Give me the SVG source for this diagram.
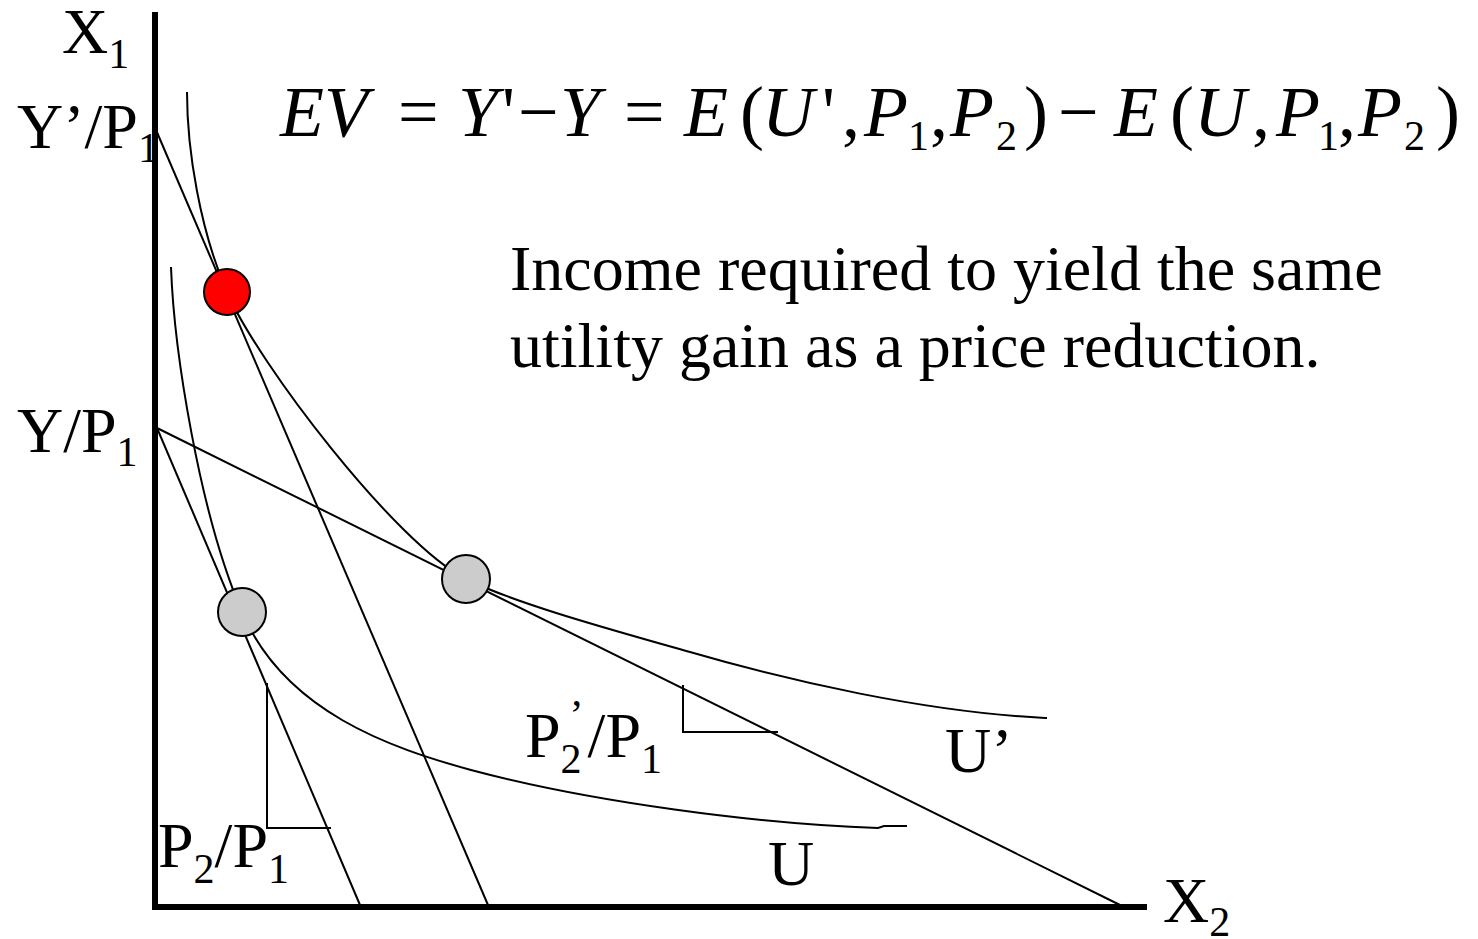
<svg xmlns="http://www.w3.org/2000/svg" width="1478" height="939" viewBox="0 0 1478 939">
<style>
text{font-family:"Liberation Serif","Times New Roman",serif;fill:#000}
.lbl{font-size:64px}
.sub{font-size:42px}
.eq{font-size:72px;font-style:italic}
.up{font-style:normal}
.ln{stroke:#000;stroke-width:2;fill:none}
.axis{stroke:#000;stroke-width:6;fill:none}
.dot{stroke:#000;stroke-width:2}
</style>
<rect width="1478" height="939" fill="#fff"/>
<g id="axes">
<line class="axis" x1="155" y1="12" x2="155" y2="910"/>
<line class="axis" x1="152" y1="907" x2="1147" y2="907"/>
</g>
<g id="connectors">
<line class="ln" x1="156" y1="130" x2="488" y2="905"/>
<line class="ln" x1="157" y1="428" x2="1122" y2="906"/>
<line class="ln" x1="157" y1="428" x2="360" y2="905"/>
<path id="curve-Uprime" class="ln" d="M187,92 C187,150 200,230 227,292 C257,362 396,544 466,579 C516,604 620,632 690,652 C790,681 925,712 1045,718 L1047,718"/>
<path id="curve-U" class="ln" d="M171,267 C174,350 199,512 242,612 C284.6,712 391,748 471,770 C591,802 758,824 878,828 L884,826 L907,826"/>
<polyline class="ln" points="267,683 267,828 331,828"/>
<polyline class="ln" points="683,685 683,732 778,732"/>
</g>
<g id="point-red"><circle class="dot" cx="227" cy="292" r="23" fill="#ff0000"/></g>
<g id="point-new"><circle class="dot" cx="466" cy="579" r="24" fill="#cccccc"/></g>
<g id="point-orig"><circle class="dot" cx="242" cy="612" r="24" fill="#cccccc"/></g>
<g id="labels">
<text class="lbl" x="62" y="53">X<tspan class="sub" dy="15">1</tspan></text>
<text class="lbl" x="17" y="148">Y’/P<tspan class="sub" dy="14">1</tspan></text>
<text class="lbl" x="17" y="452">Y/P<tspan class="sub" dy="14">1</tspan></text>
<text class="lbl" x="158" y="867">P<tspan class="sub" dy="16">2</tspan><tspan dy="-16">/P</tspan><tspan class="sub" dy="16">1</tspan></text>
<text class="lbl" x="525" y="757">P<tspan class="sub" dy="16">2</tspan><tspan class="sub" dx="-12" dy="-44">’</tspan><tspan dx="4" dy="28">/P</tspan><tspan class="sub" dy="16">1</tspan></text>
<text class="lbl" x="945" y="772">U’</text>
<text class="lbl" x="768" y="885">U</text>
<text class="lbl" x="1163" y="922">X<tspan class="sub" dy="14">2</tspan></text>
<text class="lbl" x="510" y="290">Income required to yield the same</text>
<text class="lbl" x="510" y="367">utility gain as a price reduction.</text>
</g>
<g id="equation">
<text class="eq" y="136"><tspan x="280">EV</tspan><tspan class="up" x="398">=</tspan><tspan x="458">Y</tspan><tspan class="up" x="502">'</tspan><tspan class="up" x="518">−</tspan><tspan x="560">Y</tspan><tspan class="up" x="624">=</tspan><tspan x="684">E</tspan><tspan class="up" x="740">(</tspan><tspan x="762">U</tspan><tspan class="up" x="822">'</tspan><tspan class="up" x="842">,</tspan><tspan x="864">P</tspan><tspan class="up sub" x="908" dy="14">1</tspan><tspan class="up" x="930" dy="-14">,</tspan><tspan x="950">P</tspan><tspan class="up sub" x="996" dy="14">2</tspan><tspan class="up" x="1024" dy="-14">)</tspan><tspan class="up" x="1058">−</tspan><tspan x="1114">E</tspan><tspan class="up" x="1170">(</tspan><tspan x="1194">U</tspan><tspan class="up" x="1252">,</tspan><tspan x="1276">P</tspan><tspan class="up sub" x="1318" dy="14">1</tspan><tspan class="up" x="1338" dy="-14">,</tspan><tspan x="1358">P</tspan><tspan class="up sub" x="1404" dy="14">2</tspan><tspan class="up" x="1436" dy="-14">)</tspan></text>
</g>
</svg>
